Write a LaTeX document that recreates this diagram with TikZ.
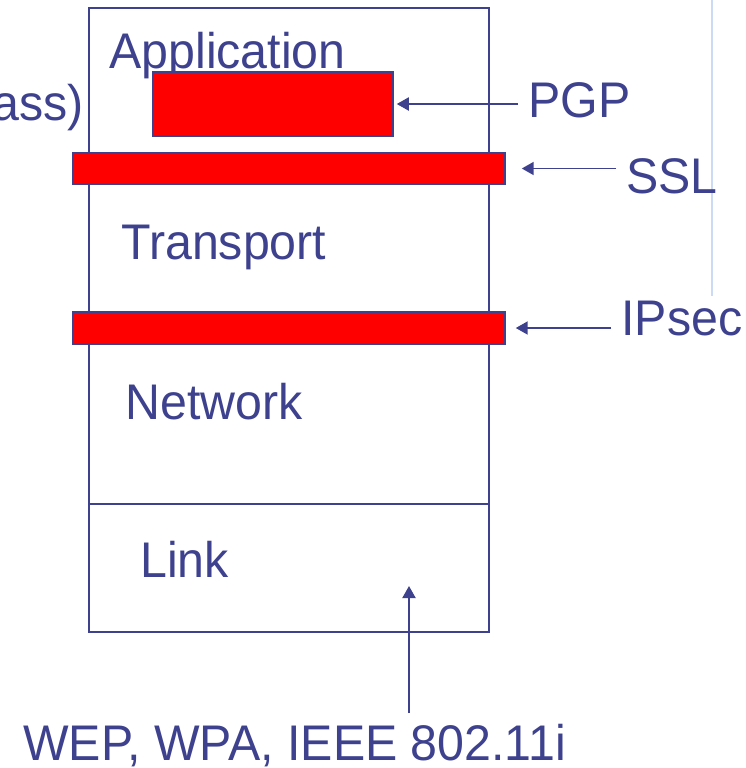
\documentclass[tikz,border=0pt]{standalone}
\usepackage{fontspec}
\setmainfont{Liberation Sans}[FakeStretch=0.965]
\usetikzlibrary{positioning,calc}
\usetikzlibrary{arrows.meta}
\definecolor{StackBlue}{RGB}{62,66,142}
\definecolor{PaleBlue}{RGB}{205,218,245}
\definecolor{SecRed}{RGB}{255,0,0}
\tikzset{
	layer/.style={inner sep=0pt,text=StackBlue,font=\fontsize{28.5}{32}\selectfont},
	secbar/.style={draw=StackBlue,fill=SecRed,line width=0.9pt,inner sep=0pt},
	pointer/.style={draw=StackBlue,line width=1.1pt,-{Triangle[length=0.24cm,width=0.26cm]}},
}
\begin{document}
\begin{tikzpicture}[x=0.02cm,y=-0.02cm]
	\useasboundingbox (0,0) rectangle (745,768);
	% protocol stack
	\node[draw=StackBlue,line width=1.1pt,minimum width=8cm,minimum height=12.48cm,inner sep=0pt] (stack) at (289,320) {};
	\draw[StackBlue,line width=1.1pt] (stack.west |- 0,504) -- (stack.east |- 0,504);
	\draw[PaleBlue,line width=1.3pt] (712,0) -- (712,296);
	% layer names
	\foreach \n/\t/\x/\y in {app/Application/109/68,trans/Transport/121/259,net/Network/125/419,link/Link/140/577}
		\node[layer,anchor=base west] (\n) at (\x,\y) {\t};
	% security bars
	\node[secbar,minimum width=4.8cm,minimum height=1.28cm] (pgpbar) at (273,104) {};
	\node[secbar,minimum width=8.64cm,minimum height=0.62cm] (sslbar) at (289,168.5) {};
	\node[secbar,minimum width=8.64cm,minimum height=0.64cm] (ipsecbar) at (289,328) {};
	% labels
	\node[layer,anchor=base west] (pgp) at (528,117) {PGP};
	\node[layer,anchor=base west] (ssl) at (626,193) {SSL};
	\node[layer,anchor=base west] (ipsec) at (621,335) {IPsec};
	\node[layer,anchor=base east] (bypass) at (84,120) {ass)};
	\node[layer,anchor=base west] (wep) at (23,760) {WEP, WPA, IEEE 802.11i};
	\coordinate (linktip) at (409,586);
	\foreach \a/\b/\g in {pgp/pgpbar/0.06,ssl/sslbar/0.32,ipsec/ipsecbar/0.2}
		\draw[pointer,shorten <=0.2cm,shorten >=\g cm] (\b.east -| \a.west) -- (\b.east);
	\draw[pointer] (linktip |- 0,713) -- (linktip);
\end{tikzpicture}
\end{document}
